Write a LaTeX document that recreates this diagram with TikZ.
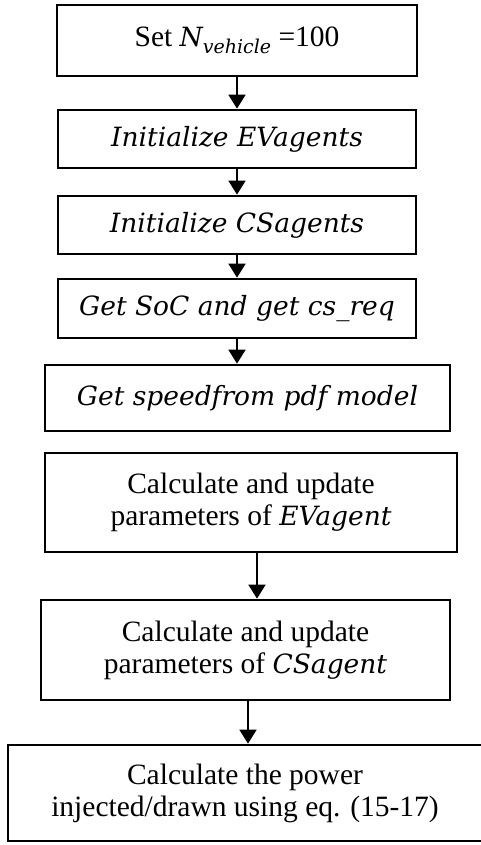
\documentclass[tikz,border=0pt]{standalone}
\usepackage{fontspec}
\setmainfont{Liberation Serif}
\newfontfamily\camfont{DejaVu Serif}
\usetikzlibrary{arrows.meta}

% italic "math" words
\newcommand\vit[1]{{\camfont\itshape\fontsize{26.5}{32}\selectfont #1}}
\newcommand\vsub[1]{\raisebox{-7pt}{\camfont\itshape\fontsize{19}{19}\selectfont #1}}

\begin{document}
\begin{tikzpicture}[x=1pt,y=-1pt,
  box/.style={draw, line width=2.7pt, rectangle, inner sep=0pt, align=center,
              font=\fontsize{29.5}{32}\selectfont},
  arr/.style={line width=1.8pt, -{Triangle[width=17pt,length=14pt]}}]
\useasboundingbox (0,0) rectangle (480,845);

\node[box, minimum width=360pt, minimum height=71pt] (b1) at (237,40.5)
  {Set \vit{N}\vsub{vehicle} =100};
\node[box, minimum width=358pt, minimum height=58pt] (b2) at (237,139)
  {\vit{Initialize EVagents}};
\node[box, minimum width=358pt, minimum height=58pt] (b3) at (237,225)
  {\vit{Initialize CSagents}};
\node[box, minimum width=358pt, minimum height=59pt] (b4) at (237,308.5)
  {\vit{Get SoC and get cs\_req}};
\node[box, minimum width=405pt, minimum height=66pt] (b5) at (247.5,398)
  {\vit{Get speedfrom pdf model}};
\node[box, minimum width=412pt, minimum height=99pt] (b6) at (251,502.5)
  {Calculate and update\\parameters of \vit{EVagent}};
\node[box, minimum width=409pt, minimum height=100pt] (b7) at (245.5,650)
  {Calculate and update\\parameters of \vit{CSagent}};
\node[box, minimum width=474pt, minimum height=96pt] (b8) at (245,793)
  {Calculate the power\\injected/drawn using eq. (15-17)};

\draw[arr] (b1) -- (b2);
\draw[arr] (b2) -- (b3);
\draw[arr] (b3) -- (b4);
\draw[arr] (b4.south) -- (b4.south |- b5.north);
\coordinate (a6) at ([xshift=6pt]b6.south);
\draw[arr] (a6) -- (a6 |- b7.north);
\coordinate (a7) at ([xshift=2.5pt]b7.south);
\draw[arr] (a7) -- (a7 |- b8.north);
\end{tikzpicture}
\end{document}
